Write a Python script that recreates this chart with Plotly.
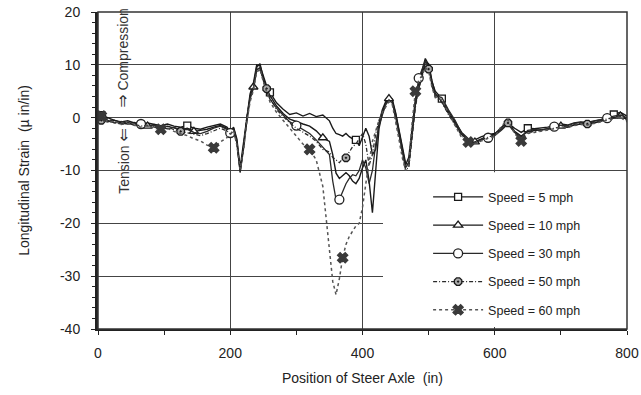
import plotly.graph_objects as go

# Steer axle position along the bridge (in)
position = [
    5, 15, 25, 35, 45, 55, 65, 75, 85, 95, 105, 115, 125, 135, 145, 155, 165, 175, 185, 195,
    200, 205, 210, 215, 220, 225, 230, 235, 240, 245, 250, 255, 260,
    270, 280, 290, 300, 310, 320, 330, 340,
    350, 355, 360, 365, 370, 375, 380, 385, 390, 395, 400, 405, 410, 415, 420, 425, 430,
    435, 440, 445, 450, 455, 460, 465, 470, 475, 480, 485, 490, 495, 500, 505, 510,
    520, 530, 540, 550, 560, 570, 580, 590, 600, 610, 620, 630, 640, 650, 660, 670, 680,
    690, 700, 710, 720, 730, 740, 750, 760, 770, 780, 790, 800,
]

# Longitudinal strain (micro in/in) for each truck speed
strain_5 = [
    0.5, 0.0, -0.5, -0.8, -0.6, -1.0, -1.2, -1.0, -1.3, -1.5, -1.2, -1.6, -1.8, -1.5, -2.0, -2.2, -1.8, -1.5, -1.2, -1.8,
    -2.6, -1.8, -4.0, -9.5, -5.0, 0.5, 4.5, 6.5, 10.0, 9.8, 7.8, 6.0, 4.8,
    2.8, 1.6, 0.6, 0.9, 0.3, 0.8, 0.2, 0.5,
    -0.6, -2.0, -3.0, -3.2, -3.5, -3.0, -3.6, -4.0, -4.2, -5.3, -3.8, -2.0, -3.5, -7.0, -6.0, -1.0, 1.5,
    3.0, 3.8, 3.2, 0.8, -2.5, -6.0, -9.0, -7.5, -1.5, 3.5, 6.5, 9.0, 11.2, 10.0, 6.8, 5.0,
    3.6, 1.2, -0.8, -2.8, -4.0, -4.2, -3.6, -3.2, -3.0, -2.2, -1.0, -2.0, -2.8, -2.0, -2.1, -2.0, -1.8,
    -1.5, -1.2, -1.4, -1.0, -0.8, -0.9, -0.6, -0.4, 0.0, 0.6, 1.0, 0.3,
]
strain_10 = [
    -0.3, -0.8, -0.5, -1.0, -1.2, -0.9, -1.4, -1.6, -1.3, -1.8, -1.6, -2.0, -2.3, -2.0, -2.6, -2.4, -2.2, -1.8, -1.5, -2.0,
    -2.8, -2.0, -4.4, -10.2, -5.5, 0.0, 4.0, 5.8, 9.6, 10.2, 7.5, 5.6, 4.2,
    2.2, 0.8, -0.3, -0.8, -1.2, -1.6, -2.5, -3.8,
    -4.5, -7.0, -10.5, -11.5, -11.0, -10.4, -11.0, -12.0, -12.5, -11.5, -9.5, -8.0, -12.0, -18.0, -10.0, -2.0, 0.8,
    2.8, 3.6, 3.5, 1.0, -2.0, -5.5, -8.5, -9.0, -3.0, 2.5, 5.5, 8.0, 10.5, 10.2, 7.0, 4.6,
    3.0, 0.8, -1.2, -3.2, -4.3, -4.6, -4.0, -3.4, -3.1, -1.8, -0.6, -2.6, -3.5, -2.6, -2.5, -2.3, -2.1,
    -1.9, -1.6, -1.8, -1.4, -1.2, -1.3, -1.0, -0.7, -0.4, 0.0, 0.3, -0.3,
]
strain_30 = [
    0.2, -0.5, -1.0, -0.7, -1.1, -1.4, -1.2, -1.6, -1.5, -1.9, -2.1, -1.8, -2.4, -2.2, -2.8, -3.0, -2.6, -2.0, -1.6, -2.2,
    -2.9, -2.2, -4.8, -10.4, -6.0, -0.5, 3.5, 5.5, 9.0, 9.5, 7.0, 5.0, 3.5,
    1.8, 0.5, -0.8, -1.5, -2.2, -3.0, -4.2, -5.5,
    -7.0, -12.0, -15.5, -15.5, -14.0, -12.5, -11.5, -10.8, -11.0, -10.0, -8.0, -9.5, -12.5, -10.0, -5.0, -1.5, 0.5,
    2.4, 3.4, 2.8, 0.2, -3.0, -6.5, -9.5, -8.5, -2.5, 2.8, 7.5, 9.0, 10.8, 9.6, 6.2, 4.2,
    3.8, 1.5, -0.5, -3.0, -4.4, -4.8, -4.2, -3.8, -3.4, -2.4, -1.2, -2.8, -3.6, -2.4, -2.2, -2.4, -2.0,
    -1.7, -1.4, -1.5, -1.1, -0.9, -1.0, -0.7, -0.5, -0.1, 0.3, 0.5, 0.0,
]
strain_50 = [
    -0.5, -0.2, -0.9, -1.2, -0.9, -1.3, -1.6, -1.4, -1.8, -2.0, -1.7, -2.3, -2.6, -2.9, -3.2, -3.4, -3.0, -2.5, -2.0, -2.5,
    -3.1, -2.5, -5.0, -10.0, -5.8, 0.2, 3.8, 6.0, 9.4, 9.0, 7.2, 5.5, 3.8,
    1.5, 0.2, -1.0, -2.0, -2.8, -3.5, -4.5, -6.0,
    -6.5, -7.5, -8.0, -8.5, -7.8, -7.6, -6.5, -5.5, -5.0, -4.0, -3.0, -5.0, -9.0, -7.0, -3.0, -0.5, 1.2,
    2.6, 3.2, 2.6, 0.0, -3.5, -7.0, -9.8, -9.5, -3.5, 2.0, 5.5, 7.8, 10.0, 9.2, 6.0, 4.0,
    2.9, 0.6, -1.4, -3.4, -4.5, -4.6, -4.1, -3.7, -3.3, -2.0, -1.0, -2.9, -3.9, -2.8, -2.6, -2.5, -2.2,
    -2.0, -1.7, -1.8, -1.3, -1.1, -1.2, -0.9, -0.6, -0.3, 0.1, 0.2, -0.5,
]
strain_60 = [
    0.3, -1.0, -0.6, -1.3, -1.1, -1.5, -1.8, -1.5, -2.0, -2.2, -2.0, -2.6, -3.0, -3.4, -4.0, -4.4, -5.2, -5.7, -4.6, -3.8,
    -3.2, -2.4, -5.2, -9.8, -6.2, -0.8, 3.0, 5.2, 8.6, 9.2, 6.8, 4.8, 3.0,
    1.0, -0.5, -2.0, -3.5, -5.0, -6.0, -8.0, -13.0,
    -25.0, -31.0, -33.5, -30.5, -26.5, -24.0, -22.5, -21.5, -20.5, -20.0, -17.0, -12.5, -8.0, -4.5, -2.5, -0.5, 1.0,
    2.0, 3.0, 2.5, -0.5, -4.0, -7.5, -10.0, -9.0, -1.0, 5.0, 7.0, 8.0, 9.5, 8.8, 5.8, 3.8,
    3.4, 0.9, -1.6, -3.8, -4.6, -4.9, -4.4, -3.9, -3.6, -1.6, -0.4, -3.0, -4.4, -3.0, -2.8, -2.6, -2.3,
    -2.1, -1.8, -1.9, -1.5, -1.3, -1.4, -1.1, -0.8, -0.5, -0.2, 0.1, -0.8,
]

# Positions at which each record carries a plotting symbol
marks_5 = [5, 135, 260, 390, 520, 650, 780]
marks_10 = [5, 75, 145, 235, 340, 440, 570, 700, 790]
marks_30 = [5, 65, 200, 300, 365, 485, 590, 690, 770]
marks_50 = [5, 125, 255, 375, 500, 620, 740]
marks_60 = [5, 95, 175, 320, 370, 480, 560, 640]

x_ticks = [0, 200, 400, 600, 800]
y_ticks = [-40, -30, -20, -10, 0, 10, 20]

FONT = "Liberation Sans, Arial, sans-serif"
CLEAR = "rgba(0,0,0,0)"

series = [
    ("Speed = 5 mph", strain_5, marks_5,
     dict(symbol="square", size=7, fill="white", edge="#1a1a1a"),
     dict(color="#1a1a1a", width=1.4, dash="solid")),
    ("Speed = 10 mph", strain_10, marks_10,
     dict(symbol="triangle-up", size=8, fill="white", edge="#1a1a1a"),
     dict(color="#1a1a1a", width=1.4, dash="solid")),
    ("Speed = 30 mph", strain_30, marks_30,
     dict(symbol="circle", size=9, fill="white", edge="#222"),
     dict(color="#2a2a2a", width=1.3, dash="solid")),
    ("Speed = 50 mph", strain_50, marks_50,
     dict(symbol="octagon-dot", size=8, fill="#aaa", edge="#1a1a1a"),
     dict(color="#2a2a2a", width=1.3, dash="4px,2px,1px,2px")),
    ("Speed = 60 mph", strain_60, marks_60,
     dict(symbol="x", size=9, fill="#3a3a3a", edge="#3a3a3a"),
     dict(color="#555", width=1.5, dash="dot")),
]

fig = go.Figure()
for name, values, marks, mk, ln in series:
    shown = [p in marks for p in position]
    fig.add_trace(go.Scatter(
        x=position, y=values, name=name, legendgroup=name,
        mode="lines+markers",
        line=ln,
        marker=dict(
            symbol=mk["symbol"], size=mk["size"],
            color=[mk["fill"] if s else CLEAR for s in shown],
            line=dict(width=1.3, color=[mk["edge"] if s else CLEAR for s in shown]),
        ),
    ))

# white panel behind the legend (hides the grid there), plus the outer frame
fig.add_shape(type="rect", xref="x", yref="y", x0=431, x1=800, y0=-39.6, y1=-10.35,
              fillcolor="white", line_width=0, layer="between")
fig.add_shape(type="rect", xref="paper", yref="paper", x0=0, x1=1, y0=0, y1=1,
              line=dict(color="#333", width=1.5), layer="above")

ARROW = '<span style="font-family:DejaVu Sans;font-size:16px">{}</span>'
fig.add_annotation(x=38, y=1.5, xref="x", yref="y", text=ARROW.format("⇒") + " Compression",
                   textangle=-90, showarrow=False, xanchor="center", yanchor="bottom",
                   font=dict(family=FONT, size=14, color="#333"))
fig.add_annotation(x=38, y=-1.5, xref="x", yref="y", text="Tension " + ARROW.format("⇐"),
                   textangle=-90, showarrow=False, xanchor="center", yanchor="top",
                   font=dict(family=FONT, size=14, color="#333"))

fig.update_layout(
    width=641, height=395,
    margin=dict(l=98, r=14, t=12, b=66),
    paper_bgcolor="white", plot_bgcolor="white",
    font=dict(family=FONT, size=14, color="#222"),
    showlegend=True,
    legend=dict(
        x=0.624, y=0.463, xanchor="left", yanchor="top",
        bgcolor=CLEAR, borderwidth=0,
        font=dict(family=FONT, size=12.5, color="#222"),
        itemwidth=50, tracegroupgap=9,
    ),
    xaxis=dict(
        range=[0, 800], tickvals=x_ticks, ticktext=[str(v) for v in x_ticks],
        automargin=False,
        showgrid=True, gridcolor="#444", gridwidth=1.3,
        showline=True, linecolor="#222", linewidth=2,
        ticks="outside", ticklen=4, tickcolor="#222",
        minor=dict(dtick=100, ticks="outside", ticklen=4, tickcolor="#222", showgrid=False),
        zeroline=False,
        title=dict(text="Position of Steer Axle  (in)", font=dict(size=14), standoff=13),
        tickfont=dict(size=14),
        ticklabelstandoff=6,
    ),
    yaxis=dict(
        range=[-40, 20], tickvals=y_ticks, ticktext=[str(v) for v in y_ticks],
        automargin=False,
        showgrid=True, gridcolor="#444", gridwidth=1.3,
        showline=True, linecolor="#222", linewidth=3,
        ticks="outside", ticklen=4, tickcolor="#222",
        minor=dict(dtick=2, ticks="outside", ticklen=3, tickcolor="#222", showgrid=False),
        zeroline=False,
        title=dict(text="Longitudinal Strain  (µ in/in)", font=dict(size=14), standoff=28),
        tickfont=dict(size=14),
        ticklabelstandoff=8,
    ),
)

fig.write_html("out.html")
